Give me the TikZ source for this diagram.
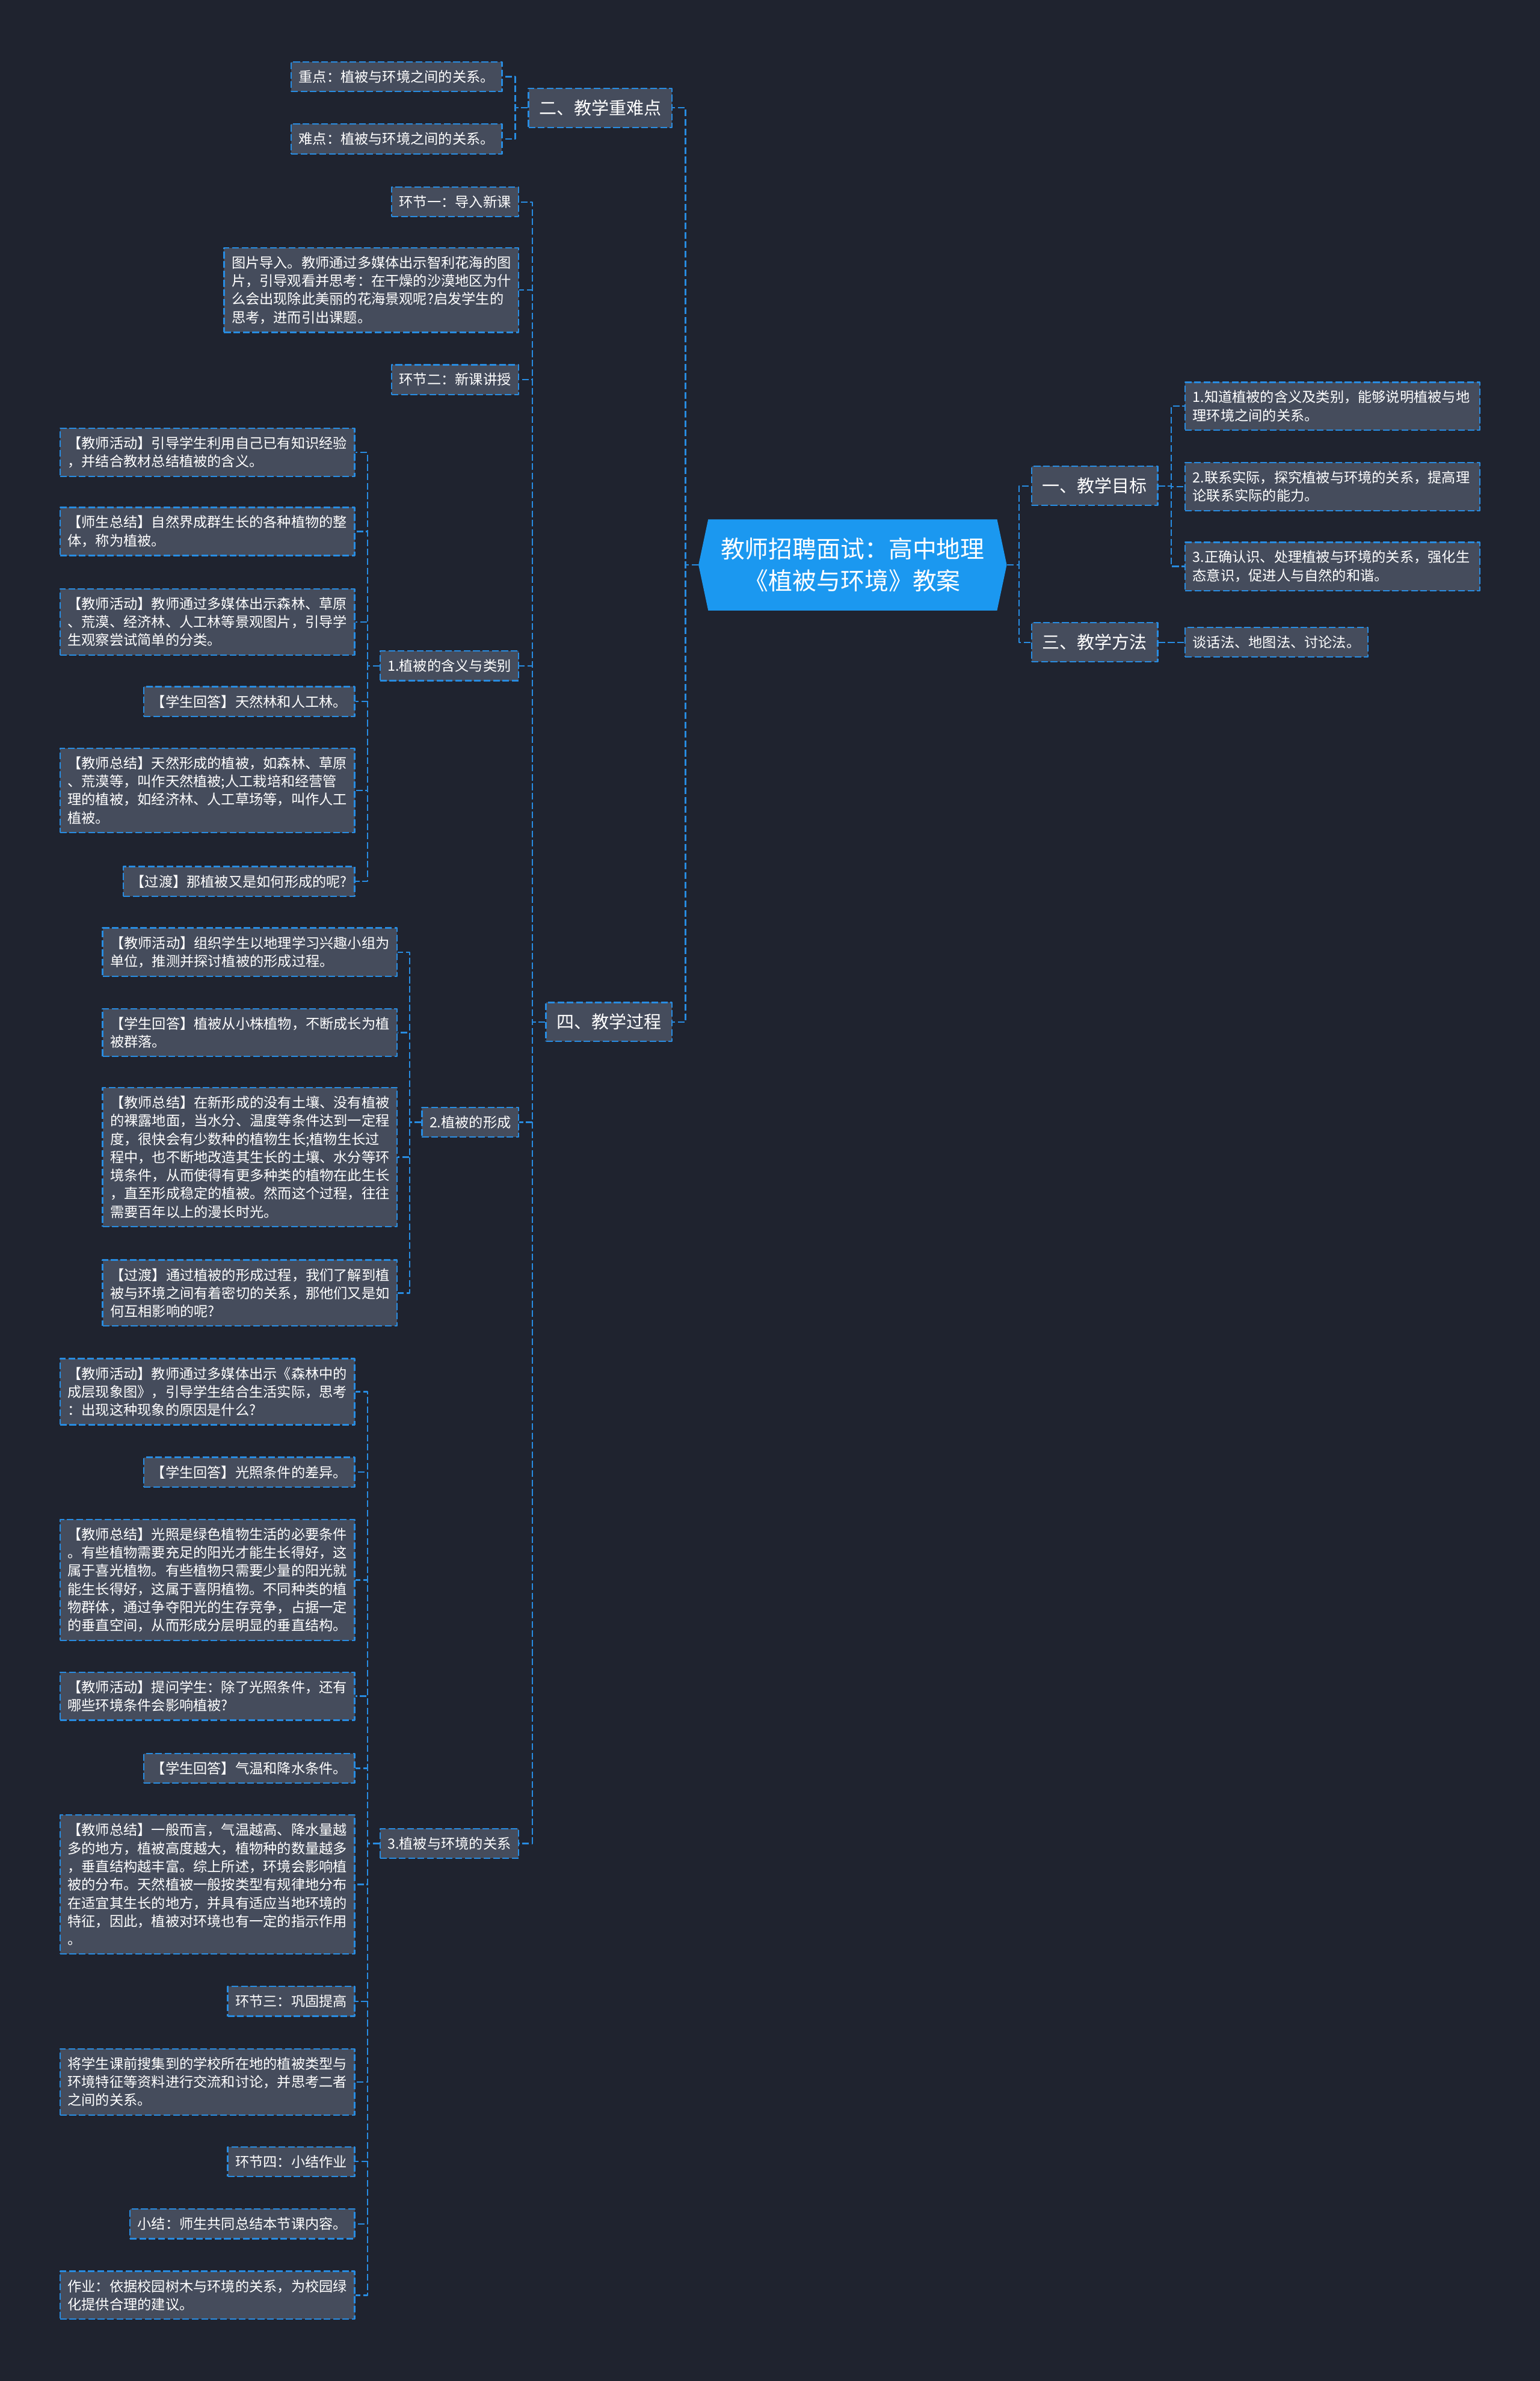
\documentclass[tikz,border=0pt]{standalone}
\usepackage{fontspec}
\setmainfont{Noto Sans CJK SC}
\usetikzlibrary{calc,shapes.symbols}
\definecolor{bgcol}{RGB}{31,35,47}
\definecolor{boxcol}{RGB}{69,76,92}
\definecolor{linecol}{RGB}{40,140,225}
\definecolor{rootcol}{RGB}{27,152,240}
\begin{document}
\begin{tikzpicture}[x=1pt, y=-1pt, line join=round,
    link/.style={draw=linecol, line width=0.9pt, dash pattern=on 4.4pt off 1.8pt},
    leaf/.style={link, fill=boxcol, text=white, align=left, inner xsep=5pt, inner ysep=5.5pt,
        font=\fontsize{9.2pt}{12pt}\selectfont},
    wide/.style={leaf, text width=184pt},
    topic/.style={leaf, inner xsep=7pt, inner ysep=7.5pt, font=\fontsize{11.5pt}{14pt}\selectfont},
    root/.style={signal, signal to=west and east, signal pointer angle=156, fill=rootcol, text=white,
        align=center, minimum width=203pt, minimum height=60pt, inner xsep=4pt,
        font=\fontsize{15.8pt}{21pt}\selectfont}]
    \fill[bgcol] (0,0) rectangle (1014,1568);
    \useasboundingbox (0,0) rectangle (1014,1568);
    % centre
    \node[root] (root) at (561.5,372) {教师招聘面试：高中地理\\《植被与环境》教案};
    \node[topic, anchor=east] (n2) at (443,71) {二、教学重难点};
    \node[topic, anchor=west] (n1) at (679,320) {一、教学目标};
    \node[topic, anchor=west] (n3) at (679,423) {三、教学方法};
    \node[topic, anchor=east] (n4) at (443,673) {四、教学过程};
    % right side
    \node[wide, anchor=west] (r1) at (780,267.5) {1.知道植被的含义及类别，能够说明植被与地\\理环境之间的关系。};
    \node[wide, anchor=west] (r2) at (780,320.5) {2.联系实际，探究植被与环境的关系，提高理\\论联系实际的能力。};
    \node[wide, anchor=west] (r3) at (780,373) {3.正确认识、处理植被与环境的关系，强化生\\态意识，促进人与自然的和谐。};
    \node[leaf, anchor=west] (m1) at (780,423) {谈话法、地图法、讨论法。};
    % key points
    \node[leaf, anchor=east] (k1) at (331,50.5) {重点：植被与环境之间的关系。};
    \node[leaf, anchor=east] (k2) at (331,91.5) {难点：植被与环境之间的关系。};
    % teaching process
    \node[leaf, anchor=east] (s1) at (342,133) {环节一：导入新课};
    \node[wide, anchor=east] (s2) at (342,191) {图片导入。教师通过多媒体出示智利花海的图\\片，引导观看并思考：在干燥的沙漠地区为什\\么会出现除此美丽的花海景观呢?启发学生的\\思考，进而引出课题。};
    \node[leaf, anchor=east] (s3) at (342,250) {环节二：新课讲授};
    \node[leaf, anchor=east] (s4) at (342,438.5) {1.植被的含义与类别};
    \node[leaf, anchor=east] (s5) at (342,739) {2.植被的形成};
    \node[leaf, anchor=east] (s6) at (342,1214) {3.植被与环境的关系};
    % 1.
    \node[wide, anchor=east] (a1) at (234,298) {【教师活动】引导学生利用自己已有知识经验\\，并结合教材总结植被的含义。};
    \node[wide, anchor=east] (a2) at (234,350) {【师生总结】自然界成群生长的各种植物的整\\体，称为植被。};
    \node[wide, anchor=east] (a3) at (234,409.5) {【教师活动】教师通过多媒体出示森林、草原\\、荒漠、经济林、人工林等景观图片，引导学\\生观察尝试简单的分类。};
    \node[leaf, anchor=east] (a4) at (234,462) {【学生回答】天然林和人工林。};
    \node[wide, anchor=east] (a5) at (234,520.5) {【教师总结】天然形成的植被，如森林、草原\\、荒漠等，叫作天然植被;人工栽培和经营管\\理的植被，如经济林、人工草场等，叫作人工\\植被。};
    \node[leaf, anchor=east] (a6) at (234,580.5) {【过渡】那植被又是如何形成的呢?};
    % 2.
    \node[wide, anchor=east] (b1) at (262,627) {【教师活动】组织学生以地理学习兴趣小组为\\单位，推测并探讨植被的形成过程。};
    \node[wide, anchor=east] (b2) at (262,680) {【学生回答】植被从小株植物，不断成长为植\\被群落。};
    \node[wide, anchor=east] (b3) at (262,762) {【教师总结】在新形成的没有土壤、没有植被\\的裸露地面，当水分、温度等条件达到一定程\\度，很快会有少数种的植物生长;植物生长过\\程中，也不断地改造其生长的土壤、水分等环\\境条件，从而使得有更多种类的植物在此生长\\，直至形成稳定的植被。然而这个过程，往往\\需要百年以上的漫长时光。};
    \node[wide, anchor=east] (b4) at (262,851.5) {【过渡】通过植被的形成过程，我们了解到植\\被与环境之间有着密切的关系，那他们又是如\\何互相影响的呢?};
    % 3.
    \node[wide, anchor=east] (c1) at (234,916.5) {【教师活动】教师通过多媒体出示《森林中的\\成层现象图》，引导学生结合生活实际，思考\\：出现这种现象的原因是什么?};
    \node[leaf, anchor=east] (c2) at (234,969.5) {【学生回答】光照条件的差异。};
    \node[wide, anchor=east] (c3) at (234,1040.5) {【教师总结】光照是绿色植物生活的必要条件\\。有些植物需要充足的阳光才能生长得好，这\\属于喜光植物。有些植物只需要少量的阳光就\\能生长得好，这属于喜阴植物。不同种类的植\\物群体，通过争夺阳光的生存竞争，占据一定\\的垂直空间，从而形成分层明显的垂直结构。};
    \node[wide, anchor=east] (c4) at (234,1117) {【教师活动】提问学生：除了光照条件，还有\\哪些环境条件会影响植被?};
    \node[leaf, anchor=east] (c5) at (234,1164.5) {【学生回答】气温和降水条件。};
    \node[wide, anchor=east] (c6) at (234,1241) {【教师总结】一般而言，气温越高、降水量越\\多的地方，植被高度越大，植物种的数量越多\\，垂直结构越丰富。综上所述，环境会影响植\\被的分布。天然植被一般按类型有规律地分布\\在适宜其生长的地方，并具有适应当地环境的\\特征，因此，植被对环境也有一定的指示作用\\。};
    \node[leaf, anchor=east] (c7) at (234,1318) {环节三：巩固提高};
    \node[wide, anchor=east] (c8) at (234,1371) {将学生课前搜集到的学校所在地的植被类型与\\环境特征等资料进行交流和讨论，并思考二者\\之间的关系。};
    \node[leaf, anchor=east] (c9) at (234,1423.5) {环节四：小结作业};
    \node[leaf, anchor=east] (c10) at (234,1464.5) {小结：师生共同总结本节课内容。};
    \node[wide, anchor=east] (c11) at (234,1511.5) {作业：依据校园树木与环境的关系，为校园绿\\化提供合理的建议。};
    % connectors
    \draw[link] (root.west) -| ($(root.west)!.5!(n2.east)$) |- (n2.east)
        (root.west) -| ($(root.west)!.5!(n4.east)$) |- (n4.east)
        (root.east) -| ($(root.east)!.5!(n1.west)$) |- (n1.west)
        (root.east) -| ($(root.east)!.5!(n3.west)$) |- (n3.west);
    \draw[link] (n1.east) -| ($(n1.east)!.5!(r1.west)$) |- (r1.west)
        (n1.east) -| ($(n1.east)!.5!(r2.west)$) |- (r2.west)
        (n1.east) -| ($(n1.east)!.5!(r3.west)$) |- (r3.west)
        (n3.east) -- (m1.west);
    \draw[link] (n2.west) -| ($(n2.west)!.5!(k1.east)$) |- (k1.east)
        (n2.west) -| ($(n2.west)!.5!(k2.east)$) |- (k2.east);
    \draw[link] (n4.west) -| ($(n4.west)!.5!(s1.east)$) |- (s1.east)
        (n4.west) -| ($(n4.west)!.5!(s2.east)$) |- (s2.east)
        (n4.west) -| ($(n4.west)!.5!(s3.east)$) |- (s3.east)
        (n4.west) -| ($(n4.west)!.5!(s4.east)$) |- (s4.east)
        (n4.west) -| ($(n4.west)!.5!(s5.east)$) |- (s5.east)
        (n4.west) -| ($(n4.west)!.5!(s6.east)$) |- (s6.east);
    \draw[link] (s4.west) -| ($(s4.west)!.5!(a1.east)$) |- (a1.east)
        (s4.west) -| ($(s4.west)!.5!(a2.east)$) |- (a2.east)
        (s4.west) -| ($(s4.west)!.5!(a3.east)$) |- (a3.east)
        (s4.west) -| ($(s4.west)!.5!(a4.east)$) |- (a4.east)
        (s4.west) -| ($(s4.west)!.5!(a5.east)$) |- (a5.east)
        (s4.west) -| ($(s4.west)!.5!(a6.east)$) |- (a6.east);
    \draw[link] (s5.west) -| ($(s5.west)!.5!(b1.east)$) |- (b1.east)
        (s5.west) -| ($(s5.west)!.5!(b2.east)$) |- (b2.east)
        (s5.west) -| ($(s5.west)!.5!(b3.east)$) |- (b3.east)
        (s5.west) -| ($(s5.west)!.5!(b4.east)$) |- (b4.east);
    \draw[link] (s6.west) -| ($(s6.west)!.5!(c1.east)$) |- (c1.east)
        (s6.west) -| ($(s6.west)!.5!(c2.east)$) |- (c2.east)
        (s6.west) -| ($(s6.west)!.5!(c3.east)$) |- (c3.east)
        (s6.west) -| ($(s6.west)!.5!(c4.east)$) |- (c4.east)
        (s6.west) -| ($(s6.west)!.5!(c5.east)$) |- (c5.east)
        (s6.west) -| ($(s6.west)!.5!(c6.east)$) |- (c6.east)
        (s6.west) -| ($(s6.west)!.5!(c7.east)$) |- (c7.east)
        (s6.west) -| ($(s6.west)!.5!(c8.east)$) |- (c8.east)
        (s6.west) -| ($(s6.west)!.5!(c9.east)$) |- (c9.east)
        (s6.west) -| ($(s6.west)!.5!(c10.east)$) |- (c10.east)
        (s6.west) -| ($(s6.west)!.5!(c11.east)$) |- (c11.east);
\end{tikzpicture}
\end{document}
